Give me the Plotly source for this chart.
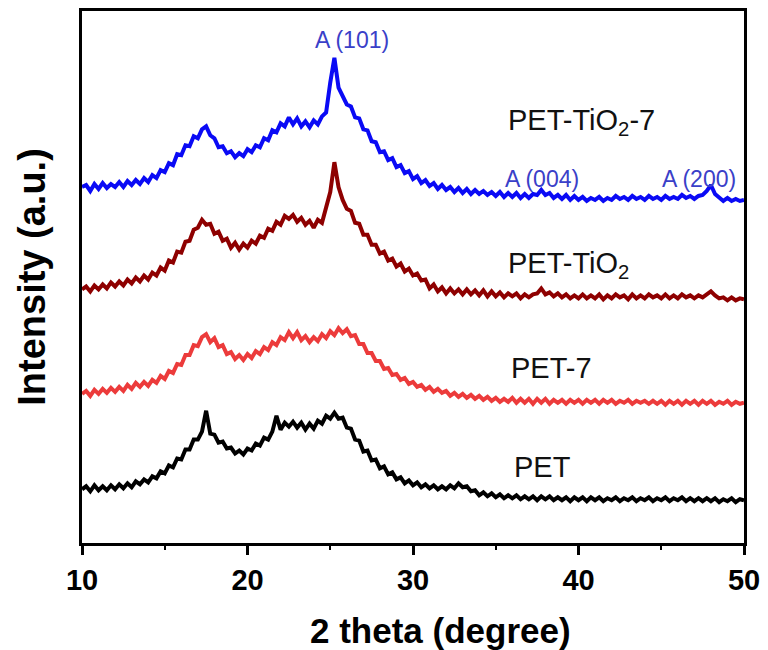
import plotly.graph_objects as go

# 2-theta grid (degree), 0.25 step from 10 to 50
two_theta = [10 + 0.25 * i for i in range(161)]

# Intensities (a.u., offset-stacked as in the figure)
pet_tio2_7 = [
    358, 360, 354, 361, 356, 362, 357, 361,
    358, 363, 358, 364, 360, 365, 361, 367,
    363, 370, 367, 375, 373, 382, 380, 391,
    390, 400, 399, 409, 407, 416, 419, 410,
    407, 398, 399, 392, 394, 388, 392, 389,
    396, 393, 400, 398, 407, 405, 415, 413,
    422, 419, 428, 421, 427, 419, 424, 418,
    425, 421, 429, 433, 463, 488, 458, 450,
    441, 439, 428, 427, 416, 415, 404, 403,
    393, 394, 385, 387, 378, 380, 372, 374,
    366, 369, 362, 365, 359, 362, 356, 360,
    355, 358, 353, 357, 352, 356, 351, 355,
    351, 354, 350, 353, 349, 353, 348, 352,
    348, 352, 347, 351, 347, 351, 350, 355,
    350, 352, 347, 350, 346, 350, 345, 349,
    345, 348, 344, 347, 345, 348, 344, 347,
    345, 349, 346, 348, 345, 349, 346, 348,
    345, 349, 346, 348, 345, 349, 346, 348,
    346, 350, 347, 349, 346, 349, 350, 354,
    360, 351, 348, 344, 347, 344, 346, 344,
    345,
]
pet_tio2 = [
    255, 258, 253, 259, 255, 260, 256, 262,
    258, 263, 259, 265, 261, 267, 263, 269,
    265, 272, 269, 277, 274, 284, 282, 293,
    292, 303, 304, 315, 317, 325, 320, 321,
    311, 313, 304, 306, 297, 302, 295, 301,
    297, 304, 301, 309, 307, 316, 314, 323,
    320, 329, 326, 330, 323, 327, 320, 324,
    317, 325, 322, 336, 353, 383, 358, 345,
    336, 334, 322, 321, 310, 310, 300, 300,
    291, 293, 284, 286, 278, 281, 273, 276,
    269, 271, 264, 265, 256, 260, 253, 257,
    251, 256, 251, 255, 250, 255, 250, 254,
    249, 254, 248, 253, 248, 252, 247, 251,
    248, 251, 246, 250, 247, 250, 251, 256,
    250, 252, 248, 251, 247, 250, 246, 249,
    246, 250, 246, 249, 246, 250, 245, 249,
    246, 250, 247, 249, 245, 250, 246, 249,
    246, 250, 247, 249, 246, 250, 246, 249,
    246, 250, 247, 249, 246, 249, 247, 250,
    253, 249, 246, 247, 244, 247, 244, 246,
    245,
]
pet_7 = [
    150, 153, 148, 154, 150, 155, 151, 156,
    152, 157, 153, 159, 155, 161, 157, 162,
    158, 164, 161, 168, 165, 173, 171, 180,
    179, 189, 189, 199, 198, 207, 210, 202,
    206, 197, 199, 190, 192, 185, 189, 184,
    190, 186, 193, 190, 197, 194, 202, 199,
    207, 204, 212, 206, 212, 204, 208, 202,
    207, 203, 210, 206, 213, 209, 216, 211,
    215, 208, 209, 200, 200, 191, 191, 183,
    183, 175, 176, 169, 170, 164, 166, 160,
    162, 157, 159, 154, 157, 152, 155, 151,
    153, 148, 151, 147, 150, 146, 149, 145,
    148, 144, 147, 143, 146, 142, 145, 142,
    146, 141, 145, 141, 145, 140, 145, 141,
    145, 140, 144, 141, 144, 140, 144, 141,
    144, 140, 144, 141, 144, 140, 144, 141,
    144, 140, 143, 141, 144, 140, 143, 141,
    143, 140, 143, 140, 143, 139, 143, 140,
    143, 139, 143, 140, 143, 139, 143, 140,
    143, 139, 142, 140, 143, 139, 142, 140,
    141,
]
pet = [
    54, 57, 52, 58, 53, 57, 53, 58,
    54, 59, 55, 60, 56, 62, 59, 64,
    61, 67, 65, 72, 70, 78, 76, 85,
    84, 94, 94, 104, 104, 112, 133, 110,
    109, 101, 102, 95, 96, 90, 93, 89,
    95, 93, 100, 98, 106, 104, 112, 128,
    114, 121, 117, 122, 116, 121, 114, 120,
    115, 123, 120, 128, 125, 131, 125, 126,
    116, 115, 104, 103, 92, 93, 83, 84,
    75, 77, 69, 71, 64, 66, 60, 63,
    58, 61, 56, 59, 55, 58, 54, 57,
    54, 58, 55, 60, 56, 57, 52, 53,
    48, 51, 47, 50, 46, 49, 45, 48,
    45, 48, 44, 47, 44, 47, 43, 47,
    44, 47, 43, 46, 43, 46, 42, 46,
    43, 46, 42, 46, 43, 46, 42, 45,
    43, 46, 42, 45, 43, 46, 42, 45,
    43, 46, 42, 45, 43, 46, 42, 45,
    43, 46, 42, 45, 42, 45, 42, 45,
    42, 45, 41, 44, 42, 45, 41, 44,
    43,
]

series_names = ["PET", "PET-7", "PET-TiO<sub>2</sub>", "PET-TiO<sub>2</sub>-7"]
series_data = [pet, pet_7, pet_tio2, pet_tio2_7]
series_colors = ["#000000", "#ec3b3b", "#8e0000", "#0a0af5"]

# label placements: (x, y) in data units, left anchored
label_pos = [(36.0, 76), (35.8, 176), (35.6, 280), (35.6, 423)]

peak_labels = ["A (101)", "A (004)", "A (200)"]
peak_pos = [(26.3, 506), (37.8, 366), (47.3, 366)]

FONT = "Arial, Liberation Sans, sans-serif"

fig = go.Figure()
for name, data, color in zip(series_names, series_data, series_colors):
    fig.add_trace(go.Scatter(x=two_theta, y=data, mode="lines", name=name,
                             line=dict(color=color, width=4)))

for name, (x, y) in zip(series_names, label_pos):
    fig.add_annotation(x=x, y=y, text=name, showarrow=False, xanchor="left",
                       yanchor="middle", font=dict(family=FONT, size=29, color="#111111"))

for name, (x, y) in zip(peak_labels, peak_pos):
    fig.add_annotation(x=x, y=y, text=name, showarrow=False, xanchor="center",
                       yanchor="middle", font=dict(family=FONT, size=23, color="#3a40c8"))

# x-axis title (placed as in the reference, slightly right of centre)
fig.add_annotation(xref="paper", yref="paper", x=0.541, y=-0.165, text="2 theta (degree)",
                   showarrow=False, xanchor="center", yanchor="middle",
                   font=dict(family=FONT, size=35, color="black", weight="bold"))

fig.update_layout(
    width=768, height=650,
    margin=dict(l=82, r=23, t=8, b=107),
    paper_bgcolor="white", plot_bgcolor="white",
    showlegend=False,
    font=dict(family=FONT, color="black"),
)
fig.update_xaxes(
    range=[10, 50], showgrid=False, zeroline=False,
    showline=True, linecolor="black", linewidth=2.6, mirror=True,
    ticks="outside", ticklen=9, tickwidth=2.6, tickcolor="black",
    tick0=10, dtick=10,
    minor=dict(ticks="outside", ticklen=4, tickwidth=2.4, tickcolor="black", dtick=5),
    tickfont=dict(family=FONT, size=29, color="black", weight="bold"),
)
fig.update_yaxes(
    range=[0, 535], showgrid=False, zeroline=False,
    showline=True, linecolor="black", linewidth=2.6, mirror=True,
    showticklabels=False, ticks="",
    title=dict(text="Intensity (a.u.)", font=dict(family=FONT, size=38, color="black", weight="bold"), standoff=22),
)

fig.write_html("out.html")
